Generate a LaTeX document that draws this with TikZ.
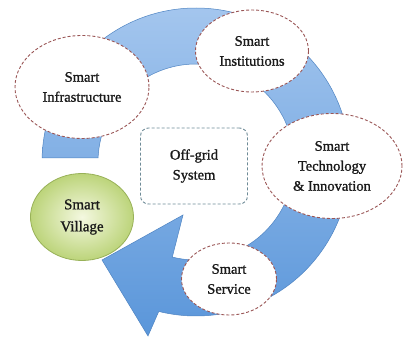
\documentclass[tikz,border=0pt]{standalone}
\usepackage{fontspec}
\setmainfont{Liberation Serif}[BoldFont={Liberation Serif}, BoldFeatures={FakeBold=1.2}]
\usetikzlibrary{shapes.geometric,calc}
\definecolor{bandtop}{HTML}{A4C6EE}
\definecolor{bandbot}{HTML}{5A96DA}
\definecolor{bandedge}{HTML}{4F84C2}
\definecolor{ellborder}{HTML}{9A5656}
\definecolor{boxborder}{HTML}{6D8A96}
\definecolor{villin}{HTML}{F4F8E0}
\definecolor{villout}{HTML}{BCD47A}
\definecolor{villedge}{HTML}{98B158}
\definecolor{txt}{HTML}{1A1A1A}
\begin{document}
\begin{tikzpicture}[x=1pt,y=1pt,
  lbl/.style={font=\fontsize{14.5}{20}\selectfont\bfseries, text=txt, align=center},
  bubble/.style={lbl, ellipse, draw=ellborder, fill=white, line width=0.9pt,
    dash pattern=on 3pt off 2pt, inner sep=0pt},
  village/.style={lbl, font=\fontsize{15}{22}\selectfont\bfseries, ellipse, draw=villedge,
    line width=0.8pt, inner sep=0pt, shading=radial, inner color=villin, outer color=villout},
  gridbox/.style={lbl, rectangle, rounded corners=8pt, draw=boxborder, line width=0.9pt,
    dash pattern=on 3pt off 2pt, inner sep=0pt},
  band/.style={top color=bandtop, bottom color=bandbot, draw=bandedge, line width=0.5pt}]
\useasboundingbox (0,0) rectangle (403,337);
\coordinate (C) at (196,175);
\coordinate (headlow) at (148,1);
\coordinate (tip) at (102,77);
\coordinate (headup) at (183,122);
% curved arrow
\path[band] (C) ++(178.5:154pt) arc[start angle=178.5, end angle=-104, radius=154pt]
  -- (headlow) -- (tip) -- (headup) -- ($(C)+(-104:98pt)$)
  arc[start angle=-104, end angle=177.6, radius=98pt] -- cycle;
% nodes
\node[bubble, minimum width=134pt, minimum height=103pt] (infra) at (82,250) {Smart\\Infrastructure};
\node[bubble, minimum width=113pt, minimum height=82pt] (inst) at (252,286) {Smart\\Institutions};
\node[bubble, minimum width=140pt, minimum height=105pt] (tech) at (332,171) {Smart\\Technology\\\& Innovation};
\node[bubble, minimum width=95pt, minimum height=72pt] (serv) at (229,58) {Smart\\Service};
\node[village, minimum width=103pt, minimum height=87pt] (vill) at (82,120) {Smart\\Village};
\node[gridbox, minimum width=107pt, minimum height=76pt] (grid) at (194,171) {Off-grid\\System};
\end{tikzpicture}
\end{document}
